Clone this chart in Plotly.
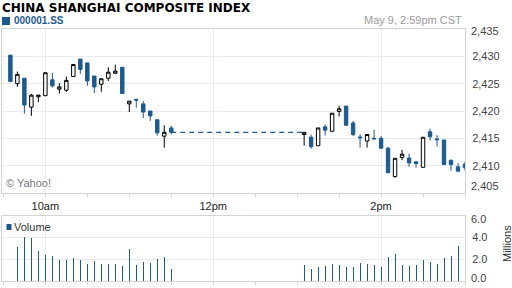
import plotly.graph_objects as go

DAY = "2012-05-09"

times_am = ["09:35", "09:40", "09:45", "09:50", "09:55", "10:00", "10:05", "10:10",
            "10:15", "10:20", "10:25", "10:30", "10:35", "10:40", "10:45", "10:50",
            "10:55", "11:00", "11:05", "11:10", "11:15", "11:20", "11:25", "11:30"]
times_pm = ["13:05", "13:10", "13:15", "13:20", "13:25", "13:30", "13:35", "13:40",
            "13:45", "13:50", "13:55", "14:00", "14:05", "14:10", "14:15", "14:20",
            "14:25", "14:30", "14:35", "14:40", "14:45", "14:50", "14:55", "15:00"]

open_am = [2430.2, 2425.0, 2426.0, 2420.7, 2422.6, 2422.8, 2425.7, 2424.0,
           2423.8, 2426.3, 2429.5, 2428.8, 2426.4, 2424.9, 2426.0, 2426.9,
           2428.0, 2421.3, 2422.1, 2421.3, 2420.0, 2418.4, 2415.4, 2416.9]
high_am = [2430.3, 2427.2, 2426.0, 2423.1, 2422.9, 2427.0, 2427.0, 2425.1,
           2426.3, 2428.5, 2429.5, 2428.8, 2426.4, 2425.9, 2428.0, 2428.5,
           2428.0, 2421.8, 2422.3, 2421.8, 2420.0, 2418.4, 2417.4, 2417.3]
low_am = [2425.3, 2424.4, 2419.5, 2419.1, 2421.6, 2422.8, 2424.3, 2423.2,
          2423.5, 2426.3, 2426.8, 2424.6, 2423.3, 2423.5, 2425.5, 2426.9,
          2423.2, 2419.8, 2420.6, 2418.7, 2418.2, 2415.5, 2413.3, 2415.7]
close_am = [2425.4, 2426.7, 2421.1, 2422.9, 2422.9, 2427.0, 2424.6, 2424.4,
            2425.6, 2428.5, 2427.6, 2425.5, 2424.4, 2425.9, 2427.1, 2427.3,
            2423.2, 2421.8, 2422.0, 2419.8, 2419.1, 2416.0, 2416.1, 2416.1]
vol_am = [None, 3.09, 4.00, 3.91, 2.75, 2.39, 2.26, 1.93,
          1.93, 2.08, 1.93, 1.56, 1.83, 1.56, 1.56, 1.56,
          1.38, 2.94, 1.47, 1.74, 1.65, 2.02, 2.20, 1.10]

open_pm = [2415.7, 2415.2, 2413.65, 2417.1, 2416.3, 2419.9, 2420.9, 2417.8,
           2415.25, 2414.5, 2415.0, 2415.0, 2413.2, 2408.0, 2411.5, 2411.4,
           2410.7, 2409.7, 2416.2, 2414.9, 2414.7, 2411.0, 2409.8, 2410.3]
high_pm = [2416.1, 2415.7, 2416.9, 2417.5, 2419.6, 2421.0, 2420.9, 2418.2,
           2415.7, 2415.7, 2416.6, 2415.4, 2413.4, 2411.35, 2412.9, 2412.2,
           2410.7, 2415.2, 2416.8, 2415.6, 2414.7, 2411.0, 2410.5, 2410.7]
low_pm = [2413.65, 2413.1, 2413.65, 2415.5, 2416.1, 2419.0, 2417.3, 2415.4,
          2413.3, 2413.3, 2414.9, 2413.2, 2408.7, 2407.8, 2411.0, 2409.8,
          2409.6, 2409.7, 2414.6, 2413.5, 2410.2, 2409.1, 2408.8, 2409.1]
close_pm = [2416.1, 2413.5, 2416.9, 2416.5, 2419.6, 2420.4, 2417.4, 2415.7,
            2415.1, 2415.7, 2414.9, 2413.2, 2408.7, 2411.35, 2412.1, 2410.5,
            2410.4, 2415.2, 2415.3, 2414.75, 2410.2, 2410.2, 2409.0, 2409.6]
vol_pm = [1.44, 1.10, 1.28, 1.38, 1.56, 1.47, 1.28, 1.28,
          1.65, 1.56, 1.47, 1.28, 2.20, 2.48, 1.47, 1.38,
          1.47, 1.93, 1.74, 1.56, 2.11, 2.29, 3.21, 3.30]

price_ticks = [2405, 2410, 2415, 2420, 2425, 2430, 2435]
vol_ticks = [0, 2, 4, 6]
time_ticks = ["10:00", "12:00", "14:00"]
time_labels = ["10am", "12pm", "2pm"]

BLUE = "#1d5a8e"
GRID = "#e8ecf1"
FRAME = "#d4d4d4"
FONT = "Liberation Sans, Arial, sans-serif"
TICKCOL = "#444444"

def ts(t):
    return f"{DAY} {t}"

x_all = [ts(t) for t in times_am + times_pm]
open_all = open_am + open_pm
high_all = high_am + high_pm
low_all = low_am + low_pm
close_all = close_am + close_pm
vol_all = vol_am + vol_pm

fig = go.Figure()

# lunch-break gap line at last morning close
fig.add_trace(go.Scatter(
    x=[ts(times_am[-1]), ts(times_pm[0])], y=[close_am[-1], close_am[-1]],
    mode="lines", line=dict(color=BLUE, width=1.2, dash="5px,4px"),
    xaxis="x", yaxis="y", hoverinfo="skip", showlegend=False))

fig.add_trace(go.Candlestick(
    x=x_all, open=open_all, high=high_all, low=low_all, close=close_all,
    increasing=dict(line=dict(color="#000000", width=1), fillcolor="#ffffff"),
    decreasing=dict(line=dict(color=BLUE, width=1), fillcolor=BLUE),
    whiskerwidth=0, xaxis="x", yaxis="y", showlegend=False))

fig.add_trace(go.Bar(
    x=x_all, y=vol_all, width=43000, marker=dict(color=BLUE, line=dict(width=0)),
    xaxis="x2", yaxis="y2", showlegend=False))

xr = [ts("09:29"), ts("15:00")]
xdom = [2 / 512, 465 / 512]
W, H = 512, 288

common_x = dict(
    type="date", range=xr, domain=xdom,
    tickmode="array", tickvals=[ts(t) for t in time_ticks],
    showgrid=True, gridcolor=GRID, gridwidth=1,
    ticks="outside", ticklen=3, tickcolor=FRAME,
    minor=dict(ticks="outside", ticklen=3, tickcolor=FRAME,
               dtick=30 * 60 * 1000, tick0=ts("09:30"), showgrid=False),
    showline=True, linecolor=FRAME, linewidth=1, mirror=True,
    zeroline=False, fixedrange=True,
)

# edge tick labels are nudged inward like the original, so they are drawn as annotations
price_edge = [price_ticks[0], price_ticks[-1]]
vol_edge = [vol_ticks[0], vol_ticks[-1]]

def price_text(v):
    return f"{v:,}"

def vol_text(v):
    return f"{v:.1f}"

edge_annots = []
for v, shift in zip(price_edge, [7, -2]):
    edge_annots.append(dict(text=price_text(v), xref="paper", yref="y", x=469 / W, y=v,
                            yshift=shift, xanchor="left", yanchor="middle", showarrow=False,
                            font=dict(family=FONT, size=11, color=TICKCOL)))
for v, shift in zip(vol_edge, [3, -3.5]):
    edge_annots.append(dict(text=vol_text(v), xref="paper", yref="y2", x=469 / W, y=v,
                            yshift=shift, xanchor="left", yanchor="middle", showarrow=False,
                            font=dict(family=FONT, size=11, color=TICKCOL)))

fig.update_layout(
    width=W, height=H,
    margin=dict(l=0, r=0, t=0, b=0),
    paper_bgcolor="white", plot_bgcolor="white",
    font=dict(family=FONT, size=11, color="#333333"),
    bargap=0,
    xaxis=dict(common_x, ticktext=time_labels, showticklabels=True,
               tickfont=dict(size=11, color="#222222"),
               rangeslider=dict(visible=False), anchor="y"),
    xaxis2=dict(common_x, ticktext=time_labels, showticklabels=False, anchor="y2"),
    yaxis=dict(domain=[(H - 193) / H, (H - 29) / H], range=[2405, 2435],
               side="right", tickmode="array", tickvals=price_ticks,
               ticktext=["" if v in price_edge else price_text(v) for v in price_ticks],
               showgrid=True, gridcolor=GRID, ticks="", ticklabelstandoff=4,
               tickfont=dict(size=11, color=TICKCOL),
               showline=True, linecolor=FRAME, mirror=True, zeroline=False,
               anchor="x"),
    yaxis2=dict(domain=[(H - 281) / H, (H - 215.5) / H], range=[0, 6],
                side="right", tickmode="array", tickvals=vol_ticks,
                ticktext=["" if v in vol_edge else vol_text(v) for v in vol_ticks],
                showgrid=True, gridcolor=GRID, ticks="", ticklabelstandoff=4,
                tickfont=dict(size=11, color=TICKCOL),
                showline=True, linecolor=FRAME, mirror=True, zeroline=False,
                anchor="x2"),
    shapes=[
        dict(type="rect", xref="paper", yref="paper",
             x0=2 / W, x1=10 / W, y0=(H - 25) / H, y1=(H - 17) / H,
             fillcolor=BLUE, line=dict(width=0)),
        dict(type="rect", xref="paper", yref="paper",
             x0=6.5 / W, x1=11.5 / W, y0=(H - 230) / H, y1=(H - 224) / H,
             fillcolor=BLUE, line=dict(width=0)),
    ],
    annotations=[
        dict(text="<b>CHINA SHANGHAI COMPOSITE INDEX</b>", xref="paper", yref="paper",
             x=1 / W, y=1, xanchor="left", yanchor="top", showarrow=False, borderpad=0,
             font=dict(family="DejaVu Sans, sans-serif", size=12, color="#000000")),
        dict(text="<b>000001.SS</b>", xref="paper", yref="paper",
             x=12 / W, y=(H - 21) / H, xanchor="left", yanchor="middle", showarrow=False,
             font=dict(family=FONT, size=10, color=BLUE)),
        dict(text="May 9, 2:59pm CST", xref="paper", yref="paper",
             x=464 / W, y=(H - 20) / H, xanchor="right", yanchor="middle", showarrow=False,
             font=dict(family=FONT, size=11, color="#9a9a9a")),
        dict(text="© Yahoo!", xref="paper", yref="paper",
             x=4 / W, y=(H - 183) / H, xanchor="left", yanchor="middle", showarrow=False,
             font=dict(family=FONT, size=11, color="#777777")),
        dict(text="Volume", xref="paper", yref="paper",
             x=12 / W, y=(H - 227) / H, xanchor="left", yanchor="middle", showarrow=False,
             font=dict(family=FONT, size=11, color="#333333")),
        dict(text="Millions", xref="paper", yref="paper", textangle=-90,
             x=507 / W, y=(H - 244) / H, xanchor="center", yanchor="middle", showarrow=False,
             font=dict(family=FONT, size=11, color="#333333")),
    ] + edge_annots,
)

fig.write_html("out.html", config={"staticPlot": True})
